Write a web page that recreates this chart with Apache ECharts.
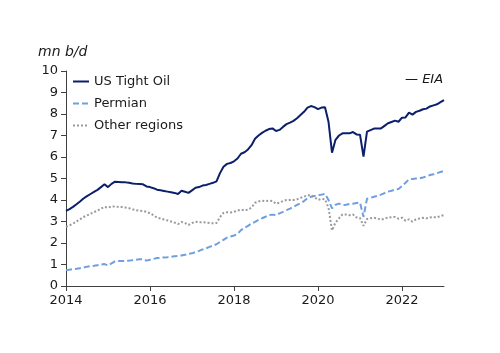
<!DOCTYPE html>
<html lang="en">
<head>
    <meta charset="UTF-8">
    <title>US tight oil production</title>
    <script src="https://cdn.jsdelivr.net/npm/echarts@6/dist/echarts.min.js"></script>
</head>
<body style="margin:0">
<div id="main" style="width:500px;height:353px"></div>
<script type="text/javascript">
    // monthly, Jan 2014 .. Jan 2023
    var months = [];
    for (var y = 2014; y <= 2023; y++) {
        for (var m = 1; m <= 12; m++) {
            if (y === 2023 && m > 1) break;
            months.push(y + '-' + (m < 10 ? '0' + m : m));
        }
    }

    // mn b/d
    var tightOil = [
        3.49, 3.58, 3.68, 3.80, 3.93, 4.07, 4.18, 4.28, 4.38, 4.47, 4.60, 4.73,
        4.60, 4.75, 4.85, 4.84, 4.83, 4.82, 4.80, 4.77, 4.75, 4.74, 4.73, 4.63,
        4.60, 4.55, 4.48, 4.45, 4.42, 4.39, 4.36, 4.33, 4.28, 4.43, 4.38, 4.33,
        4.45, 4.57, 4.60, 4.67, 4.70, 4.75, 4.80, 4.87, 5.25, 5.55, 5.68, 5.72,
        5.80, 5.93, 6.15, 6.22, 6.35, 6.55, 6.85, 7.00, 7.12, 7.22, 7.30, 7.33,
        7.21, 7.26, 7.40, 7.53, 7.60, 7.68, 7.80, 7.95, 8.10, 8.30, 8.37, 8.32,
        8.23, 8.30, 8.31, 7.64, 6.20, 6.80, 7.00, 7.10, 7.10, 7.10, 7.16, 7.05,
        7.04, 6.02, 7.18, 7.25, 7.32, 7.33, 7.33, 7.45, 7.57, 7.63, 7.69, 7.64,
        7.83, 7.84, 8.06, 7.97, 8.10, 8.15, 8.22, 8.25, 8.35, 8.40, 8.45, 8.55,
        8.65
    ];
    var permian = [
        0.74, 0.76, 0.78, 0.80, 0.83, 0.86, 0.90, 0.92, 0.94, 0.97, 1.00, 1.02,
        0.96, 1.05, 1.15, 1.16, 1.16, 1.17, 1.18, 1.20, 1.22, 1.24, 1.24, 1.18,
        1.22, 1.26, 1.30, 1.31, 1.33, 1.34, 1.36, 1.38, 1.40, 1.42, 1.45, 1.49,
        1.52, 1.58, 1.63, 1.70, 1.75, 1.82, 1.88, 1.94, 2.05, 2.15, 2.25, 2.30,
        2.35, 2.42, 2.60, 2.70, 2.80, 2.90, 2.98, 3.07, 3.15, 3.22, 3.30, 3.32,
        3.30, 3.38, 3.45, 3.53, 3.60, 3.68, 3.77, 3.85, 3.95, 4.08, 4.15, 4.19,
        4.22, 4.25, 4.28, 4.00, 3.61, 3.78, 3.83, 3.77, 3.78, 3.81, 3.83, 3.86,
        3.88, 3.22, 4.06, 4.10, 4.15, 4.19, 4.25, 4.32, 4.39, 4.43, 4.48, 4.51,
        4.65, 4.80, 4.96, 4.98, 5.00, 5.01, 5.05, 5.10, 5.16, 5.20, 5.25, 5.30,
        5.35
    ];
    var otherRegions = [
        2.75, 2.82, 2.90, 3.00, 3.10, 3.21, 3.28, 3.36, 3.44, 3.50, 3.60, 3.68,
        3.64, 3.70, 3.70, 3.68, 3.67, 3.65, 3.62, 3.57, 3.53, 3.50, 3.49, 3.45,
        3.38, 3.29, 3.18, 3.14, 3.09, 3.05, 3.00, 2.95, 2.88, 2.98, 2.93, 2.84,
        2.93, 2.99, 2.97, 2.97, 2.95, 2.93, 2.92, 2.93, 3.20, 3.40, 3.43, 3.42,
        3.45, 3.51, 3.55, 3.52, 3.55, 3.65, 3.87, 3.93, 3.97, 3.95, 3.97, 3.95,
        3.83, 3.88, 3.95, 4.00, 4.00, 4.00, 4.03, 4.10, 4.15, 4.22, 4.22, 4.13,
        4.01, 4.05, 4.03, 3.64, 2.59, 2.95, 3.15, 3.33, 3.32, 3.29, 3.33, 3.19,
        3.16, 2.80, 3.12, 3.15, 3.17, 3.14, 3.08, 3.13, 3.18, 3.20, 3.21, 3.13,
        3.18, 3.04, 3.10, 2.99, 3.10, 3.14, 3.17, 3.15, 3.19, 3.20, 3.20, 3.25,
        3.30
    ];

    var font = 'DejaVu Sans';
    var ink = '#1a1a1a';

    var myChart = echarts.init(document.getElementById('main'));
    var option = {
        animation: false,
        textStyle: { fontFamily: font, color: ink },
        title: [{
            text: 'mn b/d',
            left: 33, top: 40,
            textStyle: { fontFamily: font, fontSize: 14, fontStyle: 'italic', fontWeight: 'normal', color: ink }
        }, {
            text: '— EIA',
            left: 400, top: 68,
            textStyle: { fontFamily: font, fontSize: 13, fontStyle: 'italic', fontWeight: 'normal', color: ink }
        }],
        legend: {
            orient: 'vertical',
            left: 72, top: 75,
            padding: 0,
            itemWidth: 16, itemHeight: 14, itemGap: 9,
            itemStyle: { opacity: 0 },   // hide the circle, keep the line
            textStyle: { fontFamily: font, fontSize: 13, color: ink },
            data: ['US Tight Oil', 'Permian', 'Other regions']
        },
        grid: { left: 66, right: 56, top: 71, bottom: 67 },
        xAxis: {
            type: 'category',
            data: months,
            boundaryGap: false,
            axisLine: { lineStyle: { color: '#404040', width: 1 } },
            axisTick: {
                length: 5,
                interval: function (i) { return i % 24 === 0; },
                lineStyle: { color: '#404040' }
            },
            axisLabel: {
                interval: function (i) { return i % 24 === 0; },
                formatter: function (v) { return v.slice(0, 4); },
                fontFamily: font, fontSize: 13, color: ink, margin: 8
            }
        },
        yAxis: {
            type: 'value',
            min: 0, max: 10, interval: 1,
            splitLine: { show: false },
            axisLine: { show: true, lineStyle: { color: '#404040', width: 1 } },
            axisTick: { show: true, length: 5, lineStyle: { color: '#404040' } },
            axisLabel: { fontFamily: font, fontSize: 13, color: ink, margin: 8 }
        },
        series: [{
            name: 'US Tight Oil',
            type: 'line',
            data: tightOil,
            showSymbol: false,
            symbol: 'none',
            lineStyle: { color: '#0b1f6b', width: 2 },
            itemStyle: { color: '#0b1f6b' }
        }, {
            name: 'Permian',
            type: 'line',
            data: permian,
            showSymbol: false,
            symbol: 'none',
            lineStyle: { color: '#6f9fe0', width: 2, type: [6, 3] },
            itemStyle: { color: '#6f9fe0' }
        }, {
            name: 'Other regions',
            type: 'line',
            data: otherRegions,
            showSymbol: false,
            symbol: 'none',
            lineStyle: { color: '#9a9a9a', width: 2, type: [2, 2] },
            itemStyle: { color: '#9a9a9a' }
        }]
    };
    myChart.setOption(option);
</script>
</body>
</html>
